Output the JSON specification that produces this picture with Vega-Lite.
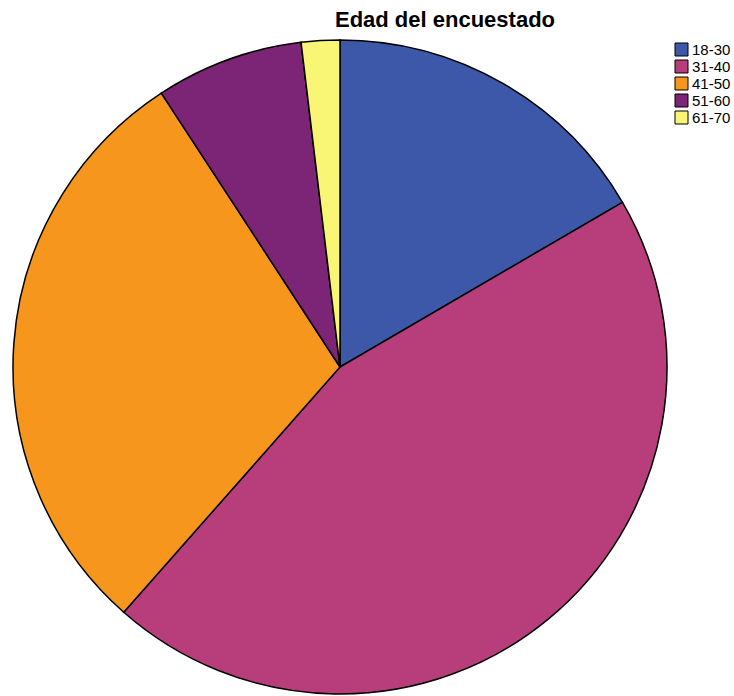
{
  "$schema": "https://vega.github.io/schema/vega-lite/v6.json",
  "width": 680,
  "height": 734,
  "autosize": "none",
  "padding": {"left": 0, "top": 0, "right": 54, "bottom": 0},
  "background": "white",
  "title": {
    "text": "Edad del encuestado",
    "font": "Liberation Sans",
    "fontSize": 22,
    "fontWeight": "bold",
    "color": "black",
    "anchor": "middle",
    "frame": "group",
    "dx": 105,
    "dy": 49,
    "offset": 0,
    "baseline": "alphabetic"
  },
  "data": {
    "values": [
      {"edad": "18-30", "pct": 16.6},
      {"edad": "31-40", "pct": 44.9},
      {"edad": "41-50", "pct": 29.3},
      {"edad": "51-60", "pct": 7.3},
      {"edad": "61-70", "pct": 1.9}
    ]
  },
  "mark": {"type": "arc", "outerRadius": 327, "stroke": "black", "strokeWidth": 1.5},
  "encoding": {
    "theta": {"field": "pct", "type": "quantitative", "stack": true},
    "order": {"field": "edad", "sort": "ascending"},
    "color": {
      "field": "edad",
      "type": "nominal",
      "scale": {
        "domain": ["18-30", "31-40", "41-50", "51-60", "61-70"],
        "range": ["#3D57A9", "#B83D7B", "#F7961C", "#7C2577", "#FAF675"]
      },
      "legend": {
        "title": null,
        "orient": "none",
        "legendX": 674,
        "legendY": 42,
        "symbolType": "square",
        "symbolSize": 169,
        "symbolStrokeColor": "black",
        "symbolStrokeWidth": 1,
        "symbolOpacity": 1,
        "labelFont": "Liberation Sans",
        "labelFontSize": 15,
        "labelColor": "black",
        "labelOffset": 3,
        "rowPadding": 0
      }
    }
  },
  "config": {"view": {"stroke": null}}
}
